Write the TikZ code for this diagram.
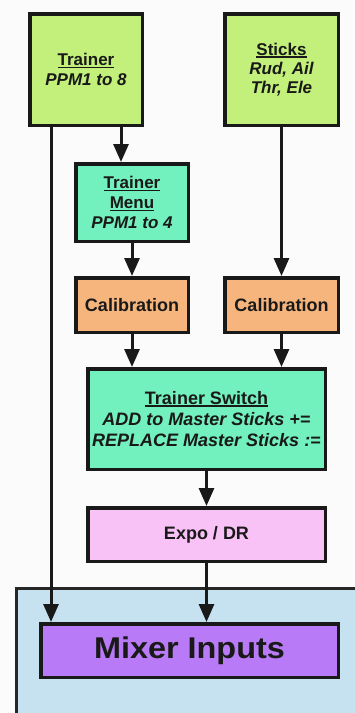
\documentclass[tikz,border=0pt]{standalone}
\usepackage{fontspec}
\usepackage{graphicx}
\setmainfont{Liberation Sans}
\usetikzlibrary{arrows.meta}
\definecolor{cgreen}{HTML}{C2F07A}
\definecolor{caqua}{HTML}{72F0BE}
\definecolor{corange}{HTML}{F6B57C}
\definecolor{cpink}{HTML}{F8C2F6}
\definecolor{cpurple}{HTML}{B87AF6}
\definecolor{cblue}{HTML}{C6E1F0}
\definecolor{cbg}{HTML}{FBFBFB}
\newcommand\myul[1]{\leavevmode\setbox0\hbox{#1}\rlap{\rule[-2.6pt]{\wd0}{1.6pt}}\box0}
\tikzset{
  box/.style={draw=black!90, line width=3.5pt, align=center, font=\bfseries, inner sep=0pt, text=black!90},
  arr/.style={line width=3pt, draw=black!90, -{Triangle[length=18pt,width=15pt]}},
  ln/.style={line width=3pt, draw=black!90}
}
\begin{document}
\begin{tikzpicture}[x=1pt,y=-1pt]
\fill[cbg] (0,0) rectangle (355,713);
\useasboundingbox (0,0) rectangle (355,713);
% panel
\fill[cblue] (16,588) rectangle (360,720);
\draw[line width=3pt, draw=black!85] (16,720) -- (16,588) -- (360,588);
% nodes
\node[box, fill=cgreen, minimum width=112.5pt, minimum height=111.5pt, font=\fontsize{17}{19.5}\selectfont\bfseries] (trainer) at (86,69.5)
  {\myul{Trainer}\\\itshape PPM1 to 8};
\node[box, fill=cgreen, minimum width=113.5pt, minimum height=111.5pt, font=\fontsize{17}{19}\selectfont\bfseries] (sticks) at (281.5,69.5)
  {\myul{Sticks}\\\itshape Rud, Ail\\\itshape Thr, Ele};
\node[box, fill=caqua, minimum width=112.5pt, minimum height=77.5pt, font=\fontsize{17}{20}\selectfont\bfseries] (menu) at (132,202.5)
  {\myul{Trainer}\\\myul{Menu}\\\itshape PPM1 to 4};
\node[box, fill=corange, minimum width=112.5pt, minimum height=54.5pt, font=\fontsize{18}{20}\selectfont\bfseries] (cal1) at (132,305) {Calibration};
\node[box, fill=corange, minimum width=113.5pt, minimum height=54.5pt, font=\fontsize{18}{20}\selectfont\bfseries] (cal2) at (281.5,305) {Calibration};
\node[box, fill=caqua, minimum width=237.5pt, minimum height=100.5pt, font=\fontsize{18}{21}\selectfont\bfseries] (switch) at (206.5,419)
  {\myul{Trainer Switch}\\\itshape ADD to Master Sticks +=\\\itshape REPLACE Master Sticks :=};
\node[box, fill=cpink, minimum width=237.5pt, minimum height=53.5pt, font=\fontsize{18}{20}\selectfont\bfseries] (expo) at (206.5,534.5) {Expo / DR};
\node[box, fill=cpurple, minimum width=297.5pt, minimum height=53.5pt, font=\fontsize{30}{32}\selectfont\bfseries] (mixer) at (189.5,650.5) {\scalebox{1.08}[1]{Mixer Inputs}};
% connectors
\draw[arr] ([xshift=35pt]trainer.south) -- ([xshift=35pt]trainer.south |- menu.north);
\draw[arr] ([xshift=-35pt]trainer.south) -- ([xshift=-35pt]trainer.south |- mixer.north);
\draw[arr] (sticks.south) -- (cal2.north);
\draw[arr] (menu.south) -- (cal1.north);
\draw[arr] (cal1.south) -- (cal1.south |- switch.north);
\draw[arr] (cal2.south) -- (cal2.south |- switch.north);
\draw[arr] (switch.south) -- (expo.north);
\draw[arr] (expo.south) -- (expo.south |- mixer.north);
\end{tikzpicture}
\end{document}
